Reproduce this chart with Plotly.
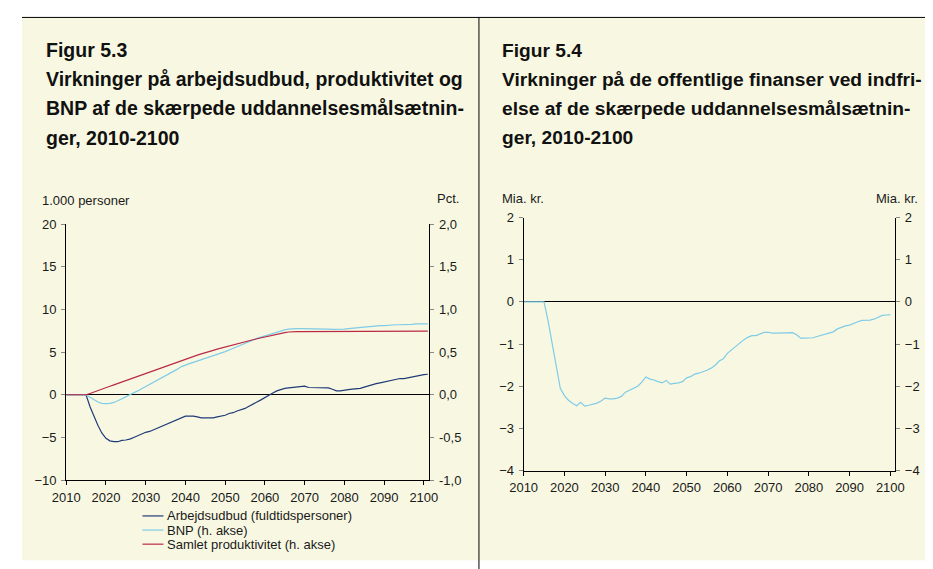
import plotly.graph_objects as go

# ---------------- data ----------------
years_left = list(range(2010, 2102))          # 2010..2101
arbejdsudbud = [0, 0, 0, 0, 0, 0,
                -1.4, -2.6, -3.6, -4.5, -5.1, -5.4, -5.5, -5.5, -5.35, -5.3,
                -5.2, -5.0, -4.8, -4.55, -4.4, -4.3, -4.1, -3.95, -3.75, -3.5,
                -3.3, -3.1, -2.9, -2.7, -2.5, -2.5, -2.5, -2.6, -2.7, -2.7,
                -2.7, -2.7, -2.6, -2.5, -2.4, -2.2, -2.1, -1.9, -1.75, -1.6,
                -1.35, -1.05, -0.85, -0.6, -0.3, 0.0, 0.2, 0.45, 0.6, 0.75,
                0.8, 0.85, 0.9, 0.95, 1.0, 0.85, 0.85, 0.85, 0.85, 0.85,
                0.8, 0.65, 0.45, 0.45, 0.55, 0.6, 0.65, 0.7, 0.75, 0.9,
                1.05, 1.15, 1.3, 1.4, 1.5, 1.6, 1.7, 1.85, 1.9, 1.9,
                2.0, 2.1, 2.2, 2.3, 2.35, 2.4]
bnp = [0, 0, 0, 0, 0, 0,
       -0.03, -0.06, -0.085, -0.10, -0.105, -0.10, -0.09, -0.07, -0.05, -0.025,
       0.0, 0.02, 0.045, 0.07, 0.095, 0.115, 0.14, 0.165, 0.19, 0.22,
       0.245, 0.27, 0.30, 0.33, 0.35, 0.365, 0.38, 0.395, 0.41, 0.425,
       0.44, 0.455, 0.47, 0.49, 0.505, 0.525, 0.545, 0.565, 0.585, 0.605,
       0.625, 0.645, 0.66, 0.675, 0.69, 0.70, 0.715, 0.73, 0.745, 0.76,
       0.77, 0.775, 0.775, 0.775, 0.775, 0.775, 0.775, 0.775, 0.775, 0.775,
       0.77, 0.765, 0.765, 0.765, 0.77, 0.775, 0.78, 0.785, 0.79, 0.795,
       0.80, 0.80, 0.805, 0.81, 0.81, 0.815, 0.815, 0.82, 0.82, 0.82,
       0.825, 0.825, 0.83, 0.83, 0.83, 0.83]
produktivitet = [0, 0, 0, 0, 0, 0,
                 0.015, 0.03, 0.048, 0.065, 0.082, 0.099, 0.116, 0.133, 0.15, 0.167,
                 0.184, 0.201, 0.218, 0.235, 0.252, 0.269, 0.286, 0.303, 0.32, 0.337,
                 0.354, 0.371, 0.388, 0.405, 0.42, 0.435, 0.45, 0.465, 0.478, 0.49,
                 0.505, 0.52, 0.535, 0.548, 0.56, 0.572, 0.584, 0.596, 0.608, 0.62,
                 0.632, 0.644, 0.656, 0.667, 0.678, 0.689, 0.70, 0.71, 0.72, 0.728,
                 0.735, 0.74, 0.74, 0.74, 0.74, 0.74, 0.74, 0.74, 0.74, 0.74,
                 0.74, 0.74, 0.74, 0.74, 0.74, 0.74, 0.74, 0.74, 0.74, 0.74,
                 0.74, 0.745, 0.745, 0.745, 0.745, 0.745, 0.745, 0.745, 0.745, 0.745,
                 0.745, 0.745, 0.745, 0.745, 0.745, 0.745]

years_right = list(range(2010, 2101))         # 2010..2100
offentlige_finanser = [0, 0, 0, 0, 0, 0,
                       -0.45, -1.0, -1.55, -2.05, -2.22, -2.33, -2.40, -2.46, -2.38, -2.47,
                       -2.45, -2.42, -2.40, -2.35, -2.28, -2.30, -2.30, -2.28, -2.24, -2.14,
                       -2.09, -2.05, -2.00, -1.90, -1.78, -1.83, -1.85, -1.89, -1.92, -1.86,
                       -1.95, -1.93, -1.92, -1.89, -1.80, -1.77, -1.71, -1.69, -1.66, -1.62,
                       -1.57, -1.50, -1.40, -1.35, -1.22, -1.14, -1.05, -0.97, -0.90, -0.84,
                       -0.80, -0.80, -0.76, -0.72, -0.72, -0.74, -0.74, -0.74, -0.74, -0.73,
                       -0.73, -0.78, -0.86, -0.86, -0.85, -0.85, -0.82, -0.79, -0.77, -0.74,
                       -0.71, -0.64, -0.60, -0.57, -0.55, -0.50, -0.47, -0.44, -0.44, -0.43,
                       -0.41, -0.37, -0.32, -0.31, -0.30]

x_ticks = list(range(2010, 2101, 10))
left_ticks = [-10, -5, 0, 5, 10, 15, 20]
pct_ticks = [-1.0, -0.5, 0.0, 0.5, 1.0, 1.5, 2.0]
pct_labels = ["-1,0", "-0,5", "0,0", "0,5", "1,0", "1,5", "2,0"]
mia_ticks = [-4, -3, -2, -1, 0, 1, 2]

series_names = ["Arbejdsudbud (fuldtidspersoner)", "BNP (h. akse)", "Samlet produktivitet (h. akse)"]
NAVY, LIGHTBLUE, RED = "#203a78", "#7fcbe8", "#b92a45"
series_colors = [NAVY, LIGHTBLUE, RED]

title_left = ["<b>Figur 5.3</b>",
              "<b>Virkninger på arbejdsudbud, produktivitet og</b>",
              "<b>BNP af de skærpede uddannelsesmålsætnin-</b>",
              "<b>ger, 2010-2100</b>"]
title_right = ["<b>Figur 5.4</b>",
               "<b>Virkninger på de offentlige finanser ved indfri-</b>",
               "<b>else af de skærpede uddannelsesmålsætnin-</b>",
               "<b>ger, 2010-2100</b>"]

# ---------------- layout helpers ----------------
# the page body has an 8px margin, so page pixel p maps to figure pixel p-8
W, H = 933, 569
OFF = 8
def px(x):
    return max(0.0, (x - OFF) / W)
def py(y):
    return 1 - (y - OFF) / H

FONT = "Liberation Sans, Arial, sans-serif"
TXT = "#1a1a1a"
CREAM = "#f8f8e2"

fig = go.Figure()
fig.add_trace(go.Scatter(x=years_left, y=arbejdsudbud, mode="lines", name=series_names[0],
                         line=dict(color=NAVY, width=1.2), xaxis="x", yaxis="y"))
fig.add_trace(go.Scatter(x=years_left, y=bnp, mode="lines", name=series_names[1],
                         line=dict(color=LIGHTBLUE, width=1.2), xaxis="x", yaxis="y2"))
fig.add_trace(go.Scatter(x=years_left, y=produktivitet, mode="lines", name=series_names[2],
                         line=dict(color=RED, width=1.2), xaxis="x", yaxis="y2"))
fig.add_trace(go.Scatter(x=years_right, y=offentlige_finanser, mode="lines", name="Offentlige finanser",
                         line=dict(color=LIGHTBLUE, width=1.2), xaxis="x2", yaxis="y3"))
fig.add_trace(go.Scatter(x=years_right, y=offentlige_finanser, mode="lines", showlegend=False,
                         line=dict(color="rgba(0,0,0,0)", width=0), hoverinfo="skip",
                         xaxis="x2", yaxis="y4"))

common_x = dict(tickmode="array", tickvals=x_ticks, ticks="outside", ticklen=4, tickcolor="#000",
                showline=True, linecolor="#000", linewidth=1, showgrid=False, zeroline=False,
                tickfont=dict(size=13, color=TXT, family=FONT), ticklabelstandoff=1, fixedrange=True)
common_y = dict(ticks="outside", ticklen=4, tickcolor="#888", showline=True, linecolor="#000",
                linewidth=1, showgrid=False, tickfont=dict(size=13, color=TXT, family=FONT),
                ticklabelstandoff=2, fixedrange=True)

fig.update_layout(
    width=W, height=H, margin=dict(l=0, r=0, t=0, b=0),
    paper_bgcolor="white", plot_bgcolor="rgba(0,0,0,0)", showlegend=False,
    font=dict(family=FONT, size=13, color=TXT),
    xaxis=dict(domain=[px(53.3), px(425.7)], range=[2010, 2101.4], anchor="y", **common_x),
    yaxis=dict(domain=[py(485.7), py(222.7)], range=[-10, 20], tickmode="array", tickvals=left_ticks,
               zeroline=True, zerolinecolor="#000", zerolinewidth=1, anchor="x", **common_y),
    yaxis2=dict(range=[-1, 2], tickmode="array", tickvals=pct_ticks, ticktext=pct_labels,
                overlaying="y", side="right", anchor="x", zeroline=False, **common_y),
    xaxis2=dict(domain=[px(522.3), px(903.3)], range=[2010, 2101.2], anchor="y3", **common_x),
    yaxis3=dict(domain=[py(476), py(216)], range=[-4, 2], tickmode="array", tickvals=mia_ticks,
                zeroline=True, zerolinecolor="#000", zerolinewidth=1, anchor="x2", **common_y),
    yaxis4=dict(range=[-4, 2], tickmode="array", tickvals=mia_ticks, overlaying="y3", side="right",
                anchor="x2", zeroline=False, **common_y),
)

shapes = [
    dict(type="rect", xref="paper", yref="paper", x0=0, x1=1, y0=py(568), y1=py(10),
         fillcolor=CREAM, line=dict(width=0), layer="below"),
    dict(type="line", xref="paper", yref="paper", x0=0, x1=1, y0=py(10.5), y1=py(10.5),
         line=dict(color="#000", width=1)),
    dict(type="line", xref="paper", yref="paper", x0=px(476.5), x1=px(476.5), y0=0, y1=py(10.5),
         line=dict(color="#000", width=1)),
]

annotations = []
title_centers = [44, 74, 104, 134]
for txt, c in zip(title_left, title_centers):
    annotations.append(dict(text=txt, xref="paper", yref="paper", x=px(30.5), y=py(c),
                            xanchor="left", yanchor="middle", showarrow=False,
                            font=dict(size=19.5, color="#111", family=FONT)))
for txt, c in zip(title_right, title_centers):
    annotations.append(dict(text=txt, xref="paper", yref="paper", x=px(498), y=py(c),
                            xanchor="left", yanchor="middle", showarrow=False,
                            font=dict(size=19.2, color="#111", family=FONT)))

unit_labels = [("1.000 personer", 26.5, 198.5, "left"), ("Pct.", 458.5, 196, "right"),
               ("Mia. kr.", 498, 196, "left"), ("Mia. kr.", 928.5, 196, "right")]
for txt, x, y, anc in unit_labels:
    annotations.append(dict(text=txt, xref="paper", yref="paper", x=px(x), y=py(y),
                            xanchor=anc, yanchor="middle", showarrow=False,
                            font=dict(size=13, color=TXT, family=FONT)))

# manual legend for the left chart
legend_y = [522.5, 537, 551.5]
for name, col, y in zip(series_names, series_colors, legend_y):
    shapes.append(dict(type="line", xref="paper", yref="paper", x0=px(131.5), x1=px(153),
                       y0=py(y), y1=py(y), line=dict(color=col, width=1.2)))
    annotations.append(dict(text=name, xref="paper", yref="paper", x=px(154.5), y=py(y),
                            xanchor="left", yanchor="middle", showarrow=False,
                            font=dict(size=13, color=TXT, family=FONT)))

fig.update_layout(shapes=shapes, annotations=annotations)
fig.write_html("out.html")
